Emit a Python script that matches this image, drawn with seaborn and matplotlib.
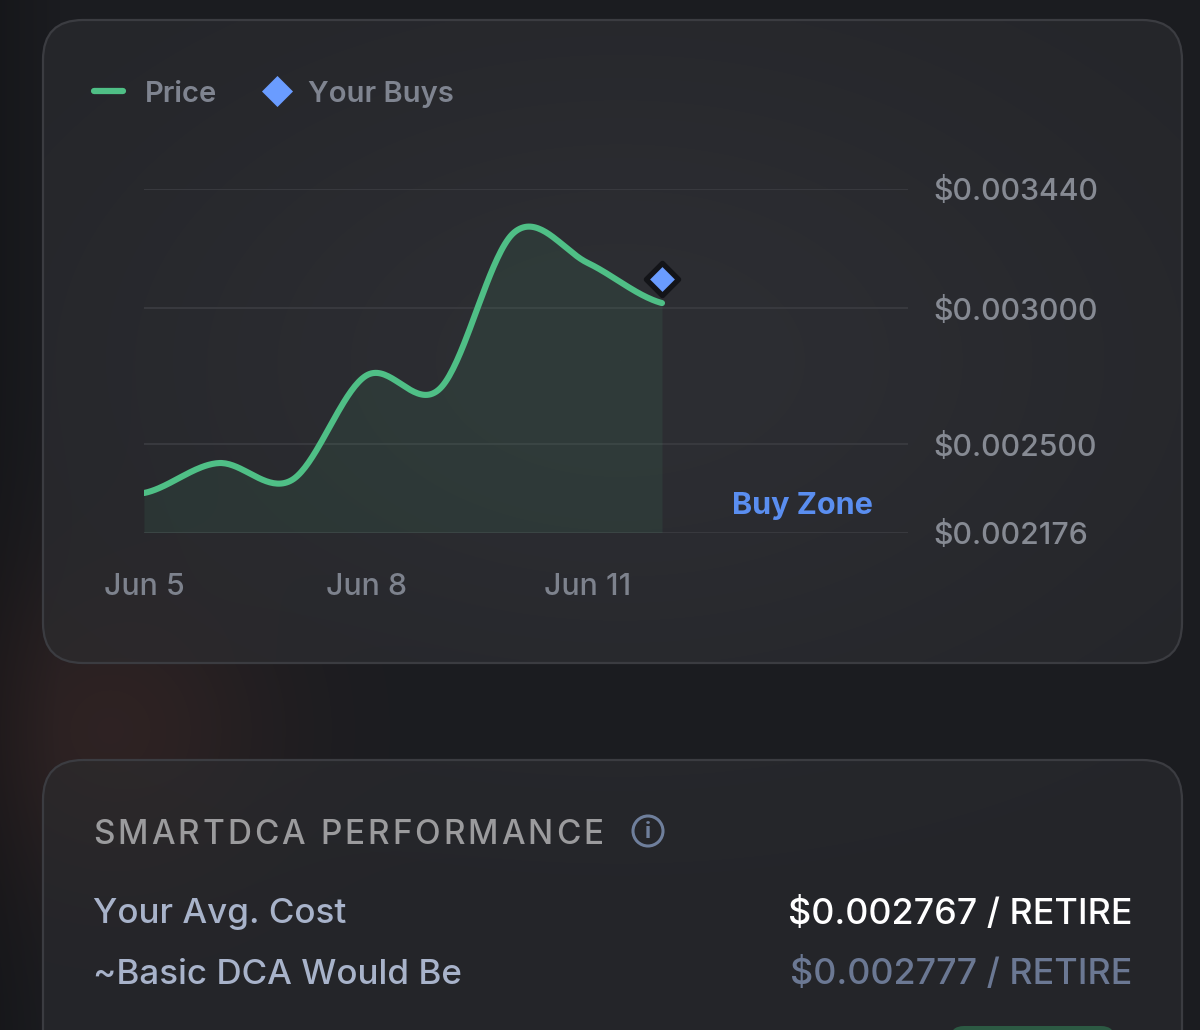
import numpy as np
import pandas as pd
import matplotlib
matplotlib.use('Agg')
import matplotlib.pyplot as plt
import seaborn as sns
from matplotlib.patches import FancyBboxPatch, Circle

# --- data ---
days = [5, 6, 7, 8, 9, 10, 11, 12]
prices = [0.002321, 0.002431, 0.002369, 0.002752, 0.002705, 0.003278, 0.003166, 0.003019]
buy_days = [12]
buy_prices = [0.003109]
price_ticks = [0.002176, 0.0025, 0.003, 0.00344]
price_labels = ['$0.002176', '$0.002500', '$0.003000', '$0.003440']
date_ticks = [5, 8, 11]
date_labels = ['Jun 5', 'Jun 8', 'Jun 11']
perf_rows = ['Your Avg. Cost', '~Basic DCA Would Be']
perf_values = ['$0.002767 / RETIRE', '$0.002777 / RETIRE']

W, H = 1200, 1030
GREEN = '#4fbf86'
BLUE = '#6a9cff'

sns.set_theme(style='dark')
plt.rcParams['font.family'] = ['Inter', 'DejaVu Sans']


def smooth(x, y, n=40):
    # catmull-rom curve through the points, only for drawing the line
    x = np.asarray(x, float)
    y = np.asarray(y, float)
    yp = np.concatenate([[y[0]], y, [y[-1]]])
    xs, ys = [], []
    t = np.linspace(0, 1, n, endpoint=False)
    for i in range(len(x) - 1):
        p0, p1, p2, p3 = yp[i], yp[i + 1], yp[i + 2], yp[i + 3]
        seg = 0.5 * (2 * p1 + (p2 - p0) * t + (2 * p0 - 5 * p1 + 4 * p2 - p3) * t ** 2
                     + (3 * p1 - p0 - 3 * p2 + p3) * t ** 3)
        xs.append(x[i] + (x[i + 1] - x[i]) * t)
        ys.append(seg)
    xs.append([x[-1]])
    ys.append([y[-1]])
    return np.concatenate(xs), np.concatenate(ys)


def spaced_text(ax, x, y, s, tracking, **kw):
    r = ax.figure.canvas.get_renderer()
    for ch in s:
        if ch == ' ':
            x += kw.get('fontsize', 20) * 0.38 + tracking
            continue
        t = ax.text(x, y, ch, **kw)
        x += t.get_window_extent(r).width + tracking


fig = plt.figure(figsize=(W / 100, H / 100), dpi=100)
fig.patch.set_facecolor('#1b1c20')

# background layer in pixel coordinates
bg = fig.add_axes([0, 0, 1, 1])
bg.set_xlim(0, W)
bg.set_ylim(H, 0)
bg.axis('off')

gx, gy = np.meshgrid(np.arange(W), np.arange(H))
glow = np.exp(-((gx - 110) ** 2 + (gy - 730) ** 2) / (2 * 115.0 ** 2))
base = np.zeros((H, W, 3))
base[:] = np.array([27, 28, 32]) / 255
base[:, :, 0] += 0.075 * glow
base[:, :, 1] += 0.025 * glow
base[:, :, 2] += 0.012 * glow
base *= (0.84 + 0.16 * np.clip(gx / 60, 0, 1))[:, :, None]
bg.imshow(np.clip(base, 0, 1), extent=[0, W, H, 0], aspect='auto', zorder=0)

light = np.exp(-((gx - 620) ** 2 / (2 * 380.0 ** 2) + (gy - 360) ** 2 / (2 * 240.0 ** 2)))
card_img = np.zeros((H, W, 3))
card_img[:] = np.array([36, 37, 41]) / 255
card_img += (np.array([9, 9, 10]) / 255) * light[:, :, None]
card_img[:, :, 0] += 0.03 * glow
card_img[:, :, 1] += 0.01 * glow

cards = [(43, 20, 1139, 643), (43, 760, 1139, 400)]
for (cx, cy, cw, ch) in cards:
    box = FancyBboxPatch((cx, cy), cw, ch, boxstyle='round,pad=0,rounding_size=40',
                         facecolor='none', edgecolor='#3b3c41', linewidth=1.6, zorder=3)
    bg.add_patch(box)
    im = bg.imshow(np.clip(card_img, 0, 1), extent=[0, W, H, 0], aspect='auto', zorder=1)
    im.set_clip_path(box)

# legend
bg.plot([94, 123], [91, 91], color=GREEN, lw=4.5, solid_capstyle='round', zorder=4)
bg.text(145, 91, 'Price', color='#7f8490', fontsize=21, fontweight='semibold',
        va='center_baseline', ha='left', zorder=4)
bg.scatter([277], [91], marker='D', s=250, color=BLUE, linewidths=0, zorder=4)
bg.text(308, 91, 'Your Buys', color='#7f8490', fontsize=21, fontweight='semibold',
        va='center_baseline', ha='left', zorder=4)

# price chart
x0, x1, y_top, y_bot = 144, 908, 188.5, 532.5
ax = fig.add_axes([x0 / W, (H - y_bot) / H, (x1 - x0) / W, (y_bot - y_top) / H])
ax.set_facecolor('none')
ax.set_zorder(5)
px_per_day = 74
ax.set_xlim(days[0], days[0] + (x1 - x0) / px_per_day)
ax.set_ylim(price_ticks[0], price_ticks[-1])

sx, sy = smooth(days, prices)
curve = pd.DataFrame({'day': sx, 'price': sy})
ax.fill_between(curve['day'], curve['price'], price_ticks[0], color=GREEN, alpha=0.09, lw=0)
sns.lineplot(data=curve, x='day', y='price', color=GREEN, linewidth=4.4, ax=ax,
             legend=False, zorder=4)
sns.scatterplot(x=buy_days, y=buy_prices, marker='D', s=270, color=BLUE,
                edgecolor='#131418', linewidth=3.8, ax=ax, zorder=6, clip_on=False)

ax.set_yticks(price_ticks)
ax.set_yticklabels(price_labels)
ax.yaxis.tick_right()
ax.set_xticks(date_ticks)
ax.set_xticklabels(date_labels)
ax.tick_params(axis='y', length=0, pad=18, labelsize=21.8, labelcolor='#868a93')
ax.tick_params(axis='x', length=0, pad=29, labelsize=21.8, labelcolor='#7d828d')
for lab in ax.get_xticklabels() + ax.get_yticklabels():
    lab.set_fontweight('medium')
ax.grid(axis='y', color='#3a3b40', linewidth=1.3)
ax.grid(axis='x', visible=False)
for sp in ax.spines.values():
    sp.set_visible(False)
ax.set_xlabel('')
ax.set_ylabel('')
ax.text(873, 503, 'Buy Zone', transform=bg.transData, color='#5a8ef0', fontsize=22,
        fontweight='bold', ha='right', va='center_baseline')

# performance card
spaced_text(bg, 93, 831, 'SMARTDCA PERFORMANCE', 3.0, color='#9b9b9d', fontsize=24,
            fontweight='medium', va='center_baseline', ha='left', zorder=4)
bg.add_patch(Circle((648, 831), 15, facecolor='none', edgecolor='#6f7f9c', lw=2.2, zorder=4))
bg.text(648, 832, 'i', color='#6f7f9c', fontsize=16, fontweight='bold',
        ha='center', va='center', zorder=4)

row_y = [910, 971]
value_colors = ['#ffffff', '#6b7893']
for lab, val, yy, vc in zip(perf_rows, perf_values, row_y, value_colors):
    bg.text(93, yy, lab, color='#a8b3ca', fontsize=25.2, fontweight='medium',
            ha='left', va='center_baseline', zorder=4)
    bg.text(1132, yy, val, color=vc, fontsize=25.8, fontweight='medium',
            ha='right', va='center_baseline', zorder=4)

bg.add_patch(FancyBboxPatch((950, 1026), 165, 40, boxstyle='round,pad=0,rounding_size=14',
                            facecolor='#2c5a43', edgecolor='none', zorder=4))

fig.savefig('out.png', dpi=100, facecolor=fig.get_facecolor())
